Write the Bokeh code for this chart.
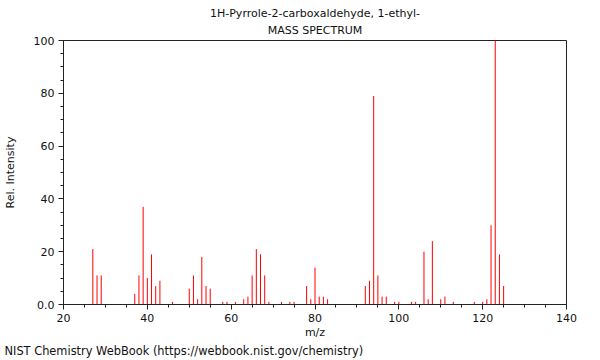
from bokeh.plotting import figure
from bokeh.models import FixedTicker, Range1d, ColumnDataSource, Title
from bokeh.embed import file_html
from bokeh.resources import INLINE

# ---- data ----
mz = [27, 28, 29, 37, 38, 39, 40, 41, 42, 43, 46, 50, 51, 52, 53, 54, 55,
      58, 59, 61, 63, 64, 65, 66, 67, 68, 69, 72, 74, 75, 78, 79, 80, 81,
      82, 83, 92, 93, 94, 95, 96, 97, 99, 100, 103, 104, 106, 107, 108,
      110, 111, 113, 118, 120, 121, 122, 123, 124, 125]
intensity = [21, 11, 11, 4, 11, 37, 10, 19, 7, 9, 1, 6, 11, 2, 18, 7, 6,
             1, 1, 1, 2, 3, 11, 21, 19, 11, 1, 1, 1, 1, 7, 2, 14, 3,
             3, 2, 7, 9, 79, 11, 3, 3, 1, 1, 1, 1, 20, 2, 24,
             2, 3, 1, 1, 1, 2, 30, 100, 19, 7]

x_ticks = [20, 40, 60, 80, 100, 120, 140]
x_minor = [20, 25, 30, 35, 40, 45, 50, 55, 60, 65, 70, 75, 80, 85, 90, 95,
           100, 105, 110, 115, 120, 125, 130, 135, 140]
y_ticks = [0, 20, 40, 60, 80, 100]
y_minor = [0, 5, 10, 15, 20, 25, 30, 35, 40, 45, 50, 55, 60, 65, 70, 75,
           80, 85, 90, 95, 100]
title_lines = ["1H-Pyrrole-2-carboxaldehyde, 1-ethyl-", "MASS SPECTRUM"]
x_label = "m/z"
y_label = "Rel. Intensity"
footer = "NIST Chemistry WebBook (https://webbook.nist.gov/chemistry)"

FONT = "DejaVu Sans"
FS = "11px"
TXT = "#111111"
AX = "#222222"

src = ColumnDataSource(dict(x=mz, y0=[0] * len(mz), y1=intensity))

p = figure(width=600, height=360, output_backend="svg", toolbar_location=None,
           x_range=Range1d(20, 140), y_range=Range1d(0, 100),
           min_border_left=62, min_border_right=34,
           min_border_top=40, min_border_bottom=56)

p.segment(x0="x", y0="y0", x1="x", y1="y1", source=src,
          line_color="#ff0000", line_width=1)

p.xgrid.visible = False
p.ygrid.visible = False
p.outline_line_color = AX
p.outline_line_width = 1

for ax in (p.xaxis[0], p.yaxis[0]):
    ax.axis_line_color = AX
    ax.major_tick_line_color = AX
    ax.minor_tick_line_color = AX
    ax.major_tick_in = 0
    ax.major_tick_out = 5
    ax.minor_tick_in = 0
    ax.minor_tick_out = 3
    ax.major_label_text_font = FONT
    ax.major_label_text_font_size = FS
    ax.major_label_text_color = TXT
    ax.axis_label_text_font = FONT
    ax.axis_label_text_font_size = FS
    ax.axis_label_text_font_style = "normal"
    ax.axis_label_text_color = TXT

p.xaxis.ticker = FixedTicker(ticks=x_ticks, minor_ticks=x_minor)
p.yaxis.ticker = FixedTicker(ticks=y_ticks, minor_ticks=y_minor)
p.yaxis.major_label_overrides = {0: "0.0"}
p.xaxis.major_label_standoff = 4
p.yaxis.major_label_standoff = 4
p.xaxis.axis_label = x_label
p.yaxis.axis_label = y_label
p.xaxis.axis_label_standoff = 1
p.yaxis.axis_label_standoff = 14

# inner title line first (closest to the frame), then the outer one
p.add_layout(Title(text=title_lines[1], align="center", vertical_align="middle",
                   standoff=5, text_font=FONT, text_font_size=FS,
                   text_font_style="normal", text_color=TXT), "above")
p.add_layout(Title(text=title_lines[0], align="center", vertical_align="middle",
                   standoff=0, text_font=FONT, text_font_size=FS,
                   text_font_style="normal", text_color=TXT), "above")
p.add_layout(Title(text=footer, align="left", vertical_align="middle",
                   standoff=3, offset=-59, text_font=FONT, text_font_size="11.4px",
                   text_font_style="normal", text_color=TXT), "below")

open("out.html", "w").write(file_html(p, INLINE))
